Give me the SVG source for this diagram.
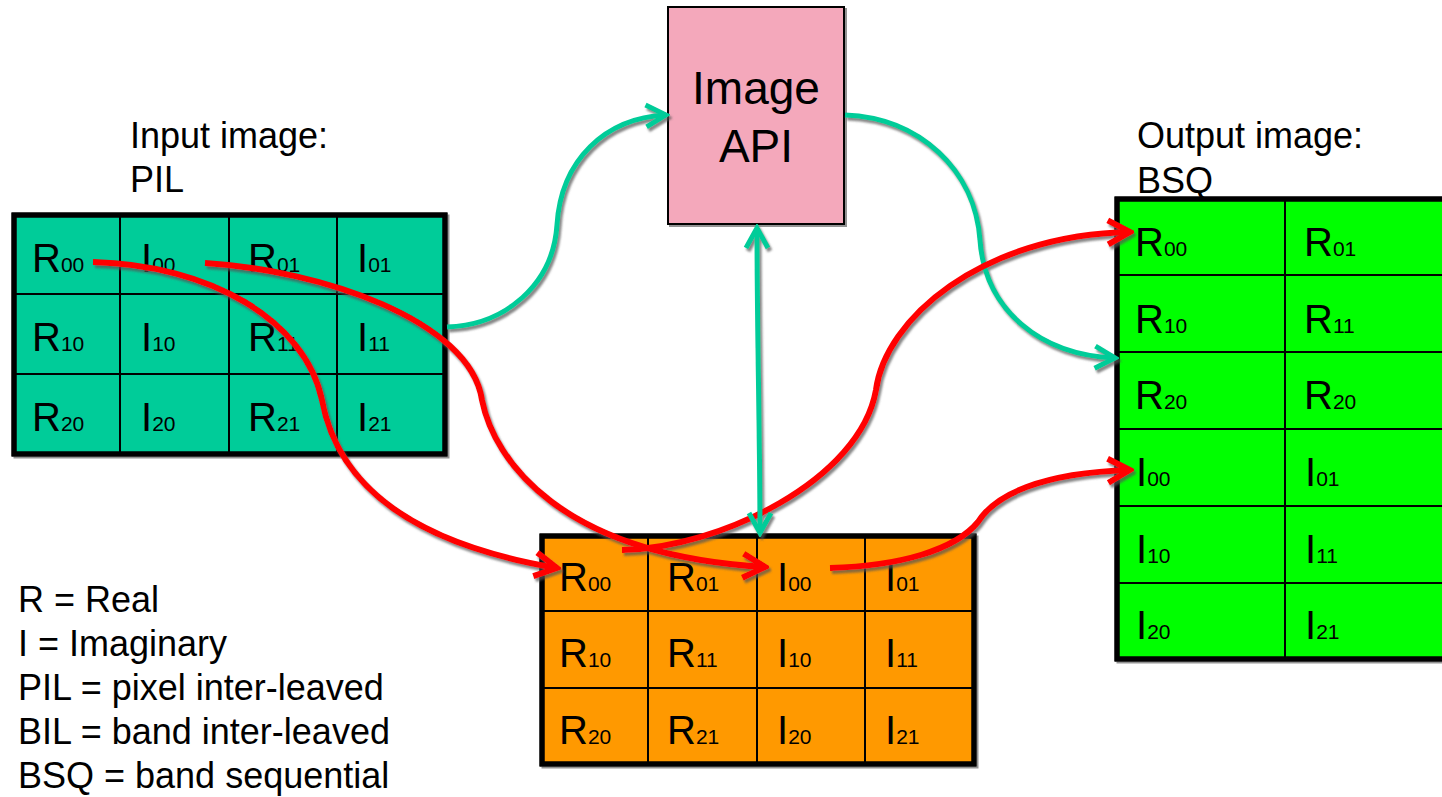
<svg xmlns="http://www.w3.org/2000/svg" width="1442" height="797" viewBox="0 0 1442 797">
<style>
text{font-family:"Liberation Sans",Arial,sans-serif;fill:#000}
.cell{font-size:40px}
.sub{font-size:21px}
.lbl{font-size:36px}
.leg{font-size:36px}
.api{font-size:46px}
.frame{fill:none;stroke:#000;stroke-width:5}
.grid{stroke:#000;stroke-width:2}
.red{fill:none;stroke:#FF0000;stroke-width:6}
.teal{fill:none;stroke:#00CC99;stroke-width:5}
</style>
<defs>
<filter id="sh" x="-10%" y="-10%" width="120%" height="120%">
<feDropShadow dx="2" dy="3" stdDeviation="0.8" flood-color="#555" flood-opacity="0.7"/>
</filter>
<filter id="bsh" x="-5%" y="-5%" width="110%" height="110%">
<feDropShadow dx="2" dy="2" stdDeviation="0.5" flood-color="#777" flood-opacity="0.8"/>
</filter>
<marker id="ar" markerUnits="userSpaceOnUse" markerWidth="30" markerHeight="30" viewBox="0 0 30 30" refX="26" refY="15" orient="auto-start-reverse">
<path d="M4,3 L26,15 L4,27" fill="none" stroke="#FF0000" stroke-width="6" stroke-linejoin="miter"/>
</marker>
<marker id="at" markerUnits="userSpaceOnUse" markerWidth="30" markerHeight="30" viewBox="0 0 30 30" refX="26" refY="15" orient="auto-start-reverse">
<path d="M6,4 L26,15 L6,26" fill="none" stroke="#00CC99" stroke-width="5" stroke-linejoin="miter"/>
</marker>
</defs>
<rect width="1442" height="797" fill="#fff"/>

<g id="label-input">
<text class="lbl" x="130" y="148">Input image:</text>
<text class="lbl" x="130" y="192">PIL</text>
</g>
<g id="label-output">
<text class="lbl" x="1137" y="148">Output image:</text>
<text class="lbl" x="1137" y="193">BSQ</text>
</g>

<g id="image-api">
<rect x="668" y="7" width="176" height="217" fill="#F4A8BB" stroke="#000" stroke-width="2" filter="url(#bsh)"/>
<text class="api" x="756" y="104" text-anchor="middle">Image</text>
<text class="api" x="756" y="162" text-anchor="middle">API</text>
</g>

<g id="input-grid">
<rect x="14" y="215" width="431" height="239" class="frame" style="fill:#00CC99" filter="url(#bsh)"/>
<path class="grid" d="M120,215V454M229,215V454M337,215V454M14,294H445M14,374H445"/>
<rect x="14" y="215" width="431" height="239" class="frame"/>
<g class="cell">
<text x="32" y="272">R<tspan class="sub">00</tspan></text>
<text x="141" y="272">I<tspan class="sub">00</tspan></text>
<text x="248" y="272">R<tspan class="sub">01</tspan></text>
<text x="357" y="272">I<tspan class="sub">01</tspan></text>
<text x="32" y="351">R<tspan class="sub">10</tspan></text>
<text x="141" y="351">I<tspan class="sub">10</tspan></text>
<text x="248" y="351">R<tspan class="sub">11</tspan></text>
<text x="357" y="351">I<tspan class="sub">11</tspan></text>
<text x="32" y="431">R<tspan class="sub">20</tspan></text>
<text x="141" y="431">I<tspan class="sub">20</tspan></text>
<text x="248" y="431">R<tspan class="sub">21</tspan></text>
<text x="357" y="431">I<tspan class="sub">21</tspan></text>
</g>
</g>

<g id="bil-grid">
<rect x="542" y="536" width="432" height="228" class="frame" style="fill:#FF9900" filter="url(#bsh)"/>
<path class="grid" d="M648,536V764M757,536V764M865,536V764M542,611H974M542,688H974"/>
<rect x="542" y="536" width="432" height="228" class="frame"/>
<g class="cell">
<text x="559" y="591">R<tspan class="sub">00</tspan></text>
<text x="667" y="591">R<tspan class="sub">01</tspan></text>
<text x="777" y="591">I<tspan class="sub">00</tspan></text>
<text x="885" y="591">I<tspan class="sub">01</tspan></text>
<text x="559" y="667">R<tspan class="sub">10</tspan></text>
<text x="667" y="667">R<tspan class="sub">11</tspan></text>
<text x="777" y="667">I<tspan class="sub">10</tspan></text>
<text x="885" y="667">I<tspan class="sub">11</tspan></text>
<text x="559" y="744">R<tspan class="sub">20</tspan></text>
<text x="667" y="744">R<tspan class="sub">21</tspan></text>
<text x="777" y="744">I<tspan class="sub">20</tspan></text>
<text x="885" y="744">I<tspan class="sub">21</tspan></text>
</g>
</g>

<g id="output-grid">
<rect x="1117" y="199" width="340" height="460" class="frame" style="fill:#00FF00" filter="url(#bsh)"/>
<path class="grid" d="M1285,199V659M1117,275H1442M1117,352H1442M1117,429H1442M1117,506H1442M1117,583H1442"/>
<rect x="1117" y="199" width="340" height="460" class="frame"/>
<g class="cell">
<text x="1135" y="256">R<tspan class="sub">00</tspan></text>
<text x="1304" y="256">R<tspan class="sub">01</tspan></text>
<text x="1135" y="333">R<tspan class="sub">10</tspan></text>
<text x="1304" y="333">R<tspan class="sub">11</tspan></text>
<text x="1135" y="409">R<tspan class="sub">20</tspan></text>
<text x="1304" y="409">R<tspan class="sub">20</tspan></text>
<text x="1136" y="486">I<tspan class="sub">00</tspan></text>
<text x="1305" y="486">I<tspan class="sub">01</tspan></text>
<text x="1136" y="563">I<tspan class="sub">10</tspan></text>
<text x="1305" y="563">I<tspan class="sub">11</tspan></text>
<text x="1136" y="639">I<tspan class="sub">20</tspan></text>
<text x="1305" y="639">I<tspan class="sub">21</tspan></text>
</g>
</g>

<g id="legend" class="leg">
<text x="18" y="612">R = Real</text>
<text x="18" y="656">I = Imaginary</text>
<text x="18" y="700">PIL = pixel inter-leaved</text>
<text x="18" y="744">BIL = band inter-leaved</text>
<text x="18" y="788">BSQ = band sequential</text>
</g>

<g id="connectors" filter="url(#sh)">
<path class="teal" d="M447,327 C505,325 553,285 557,225 C561,160 605,118 666,115" marker-end="url(#at)"/>
<path class="teal" d="M845,115 C920,118 975,170 980,240 C985,310 1040,355 1115,358" marker-end="url(#at)"/>
<path class="red" d="M93,262 C210,265 305,320 322,400 C335,470 390,540 557,568" marker-end="url(#ar)"/>
<path class="red" d="M205,263 C320,270 470,320 482,400 C494,460 560,555 765,567" marker-end="url(#ar)"/>
<path class="red" d="M622,550 C720,548 860,480 876,390 C885,320 980,235 1130,232" marker-end="url(#ar)"/>
<path class="red" d="M830,568 C900,566 955,550 978,522 C995,495 1040,473 1130,470" marker-end="url(#ar)"/>
<path class="teal" d="M757,228 C757,330 760,440 760,533" marker-start="url(#at)" marker-end="url(#at)"/>
</g>
</svg>
